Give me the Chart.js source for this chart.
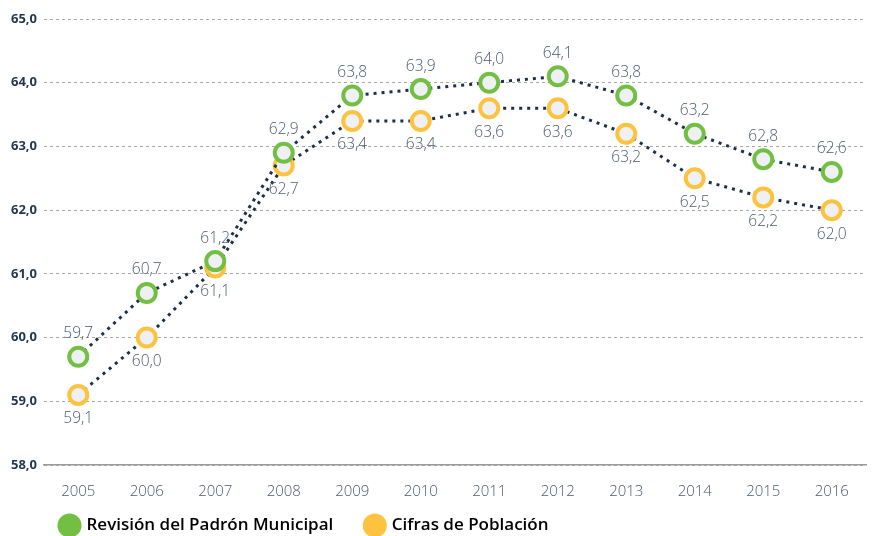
<!DOCTYPE html>
<html>
<head>
<meta charset="utf-8">
<script src="https://cdn.jsdelivr.net/npm/chart.js@4/dist/chart.umd.min.js"></script>
<style>
  html, body { margin: 0; padding: 0; background: #fff; overflow: hidden; }
  #wrap { width: 879px; height: 536px; }
</style>
</head>
<body>
<div id="wrap"><canvas id="grafico"></canvas></div>
<script>
var anios = ['2005','2006','2007','2008','2009','2010','2011','2012','2013','2014','2015','2016'];
var padron = [59.7, 60.7, 61.2, 62.9, 63.8, 63.9, 64.0, 64.1, 63.8, 63.2, 62.8, 62.6];
var cifras = [59.1, 60.0, 61.1, 62.7, 63.4, 63.4, 63.6, 63.6, 63.2, 62.5, 62.2, 62.0];
var ticksY = [58, 59, 60, 61, 62, 63, 64, 65];

var verde = '#72bf44';
var amarillo = '#fdc23e';
var azul = '#1c3048';

function coma(v) {
  return v.toFixed(1).replace('.', ',');
}

// etiquetas de valor: verde encima, amarilla debajo
var etiquetas = {
  id: 'etiquetas',
  afterDatasetsDraw: function(chart) {
    var ctx = chart.ctx;
    ctx.save();
    ctx.font = '300 15.5px "Open Sans"';
    ctx.fillStyle = '#4a5a6e';
    ctx.textAlign = 'center';
    ctx.textBaseline = 'middle';
    chart.data.datasets.forEach(function(ds, i) {
      var meta = chart.getDatasetMeta(i);
      meta.data.forEach(function(pt, j) {
        var dy = i == 0 ? -23 : 24;
        ctx.fillText(coma(ds.data[j]), pt.x, pt.y + dy);
      });
    });
    ctx.restore();
  }
};

// leyenda de altura fija, pegada al borde inferior
var ajustarLeyenda = {
  id: 'ajustarLeyenda',
  beforeLayout: function(chart) {
    var ley = chart.legend;
    if (ley && !ley._fitFijo) {
      var fitOrig = ley.fit;
      ley.fit = function() {
        fitOrig.call(this);
        this.height = 25;
      };
      ley._fitFijo = true;
    }
  },
  afterLayout: function(chart) {
    chart.legend.left += 22;
    chart.legend.top -= 27;
  }
};

var ctx = document.getElementById('grafico');
var grafico = new Chart(ctx, {
  type: 'line',
  data: {
    labels: anios,
    datasets: [{
      label: 'Revisión del Padrón Municipal',
      data: padron,
      borderColor: azul,
      borderWidth: 3,
      borderDash: [3, 5],
      pointBackgroundColor: '#eef0f3',
      pointBorderColor: verde,
      pointBorderWidth: 4,
      pointRadius: 9,
      legendColor: verde
    }, {
      label: 'Cifras de Población',
      data: cifras,
      borderColor: azul,
      borderWidth: 3,
      borderDash: [3, 5],
      pointBackgroundColor: '#eef0f3',
      pointBorderColor: amarillo,
      pointBorderWidth: 4,
      pointRadius: 9,
      legendColor: amarillo
    }]
  },
  options: {
    responsive: true,
    maintainAspectRatio: false,
    animation: false,
    layout: { padding: { top: 19, right: 0, left: 6, bottom: 0 } },
    plugins: {
      tooltip: { enabled: false },
      legend: {
        position: 'bottom',
        align: 'start',
        labels: {
          usePointStyle: true,
          pointStyle: 'circle',
          boxWidth: 25,
          boxHeight: 25,
          padding: 33,
          color: '#3a3f45',
          font: { family: '"Open Sans"', size: 17, weight: '600' },
          generateLabels: function(chart) {
            return chart.data.datasets.map(function(ds, i) {
              return {
                text: ds.label,
                fillStyle: ds.legendColor,
                strokeStyle: ds.legendColor,
                lineWidth: 0,
                pointStyle: 'circle',
                datasetIndex: i
              };
            });
          }
        }
      }
    },
    scales: {
      x: {
        offset: true,
        grid: { display: false },
        border: { color: '#9a9a9a', width: 1.5 },
        ticks: {
          color: '#4a5a6e',
          padding: 10,
          font: { family: '"Open Sans"', size: 15, weight: '300' }
        }
      },
      y: {
        min: 58,
        max: 65,
        afterBuildTicks: function(axis) {
          axis.ticks = ticksY.map(function(v) { return { value: v }; });
        },
        afterFit: function(axis) { axis.width = 38; },
        grid: { color: '#a8a8a8', lineWidth: 1, drawTicks: false },
        border: { display: false, dash: [3, 3] },
        ticks: {
          color: '#1f3550',
          padding: 7,
          font: { family: '"Open Sans"', size: 13, weight: 'bold' },
          callback: function(v) { return coma(v); }
        }
      }
    }
  },
  plugins: [etiquetas, ajustarLeyenda]
});
</script>
</body>
</html>
